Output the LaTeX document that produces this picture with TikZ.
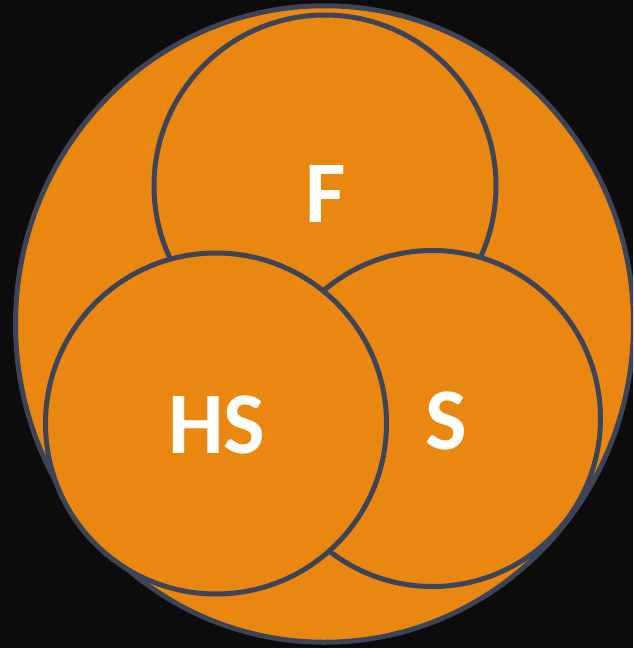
\documentclass[tikz,border=0pt]{standalone}
\usepackage{fontspec}
\usetikzlibrary{shapes.geometric}
\setmainfont{Carlito}
\definecolor{bgc}{HTML}{0C0C0C}
\definecolor{orng}{HTML}{E98711}
\definecolor{edge}{HTML}{3E4457}
\begin{document}
\begin{tikzpicture}[x=1pt,y=-1pt,
  setc/.style={circle,draw=edge,fill=orng,line width=5pt,inner sep=0pt},
  lbl/.style={text=white,font=\fontsize{88}{88}\selectfont\bfseries,inner sep=0pt}]
\fill[bgc] (0,0) rectangle (633,648);
\useasboundingbox (0,0) rectangle (633,648);
\begin{scope}
\clip (0,0) rectangle (633,648);
\node[ellipse,draw=edge,fill=orng,line width=5pt,inner sep=0pt,minimum width=618pt,minimum height=636.5pt] (U) at (324.5,324) {};
\node[setc,minimum size=342pt] (F) at (325,186) {};
\node[setc,minimum size=336pt] (S) at (432.5,418.5) {};
\node[setc,minimum size=341pt] (HS) at (216,423.5) {};
\end{scope}
\node[lbl] (tF) at (326,194) {F};
\node[lbl] (tHS) at (217,425) {HS};
\node[lbl] (tS) at (446,421) {S};
\end{tikzpicture}
\end{document}
